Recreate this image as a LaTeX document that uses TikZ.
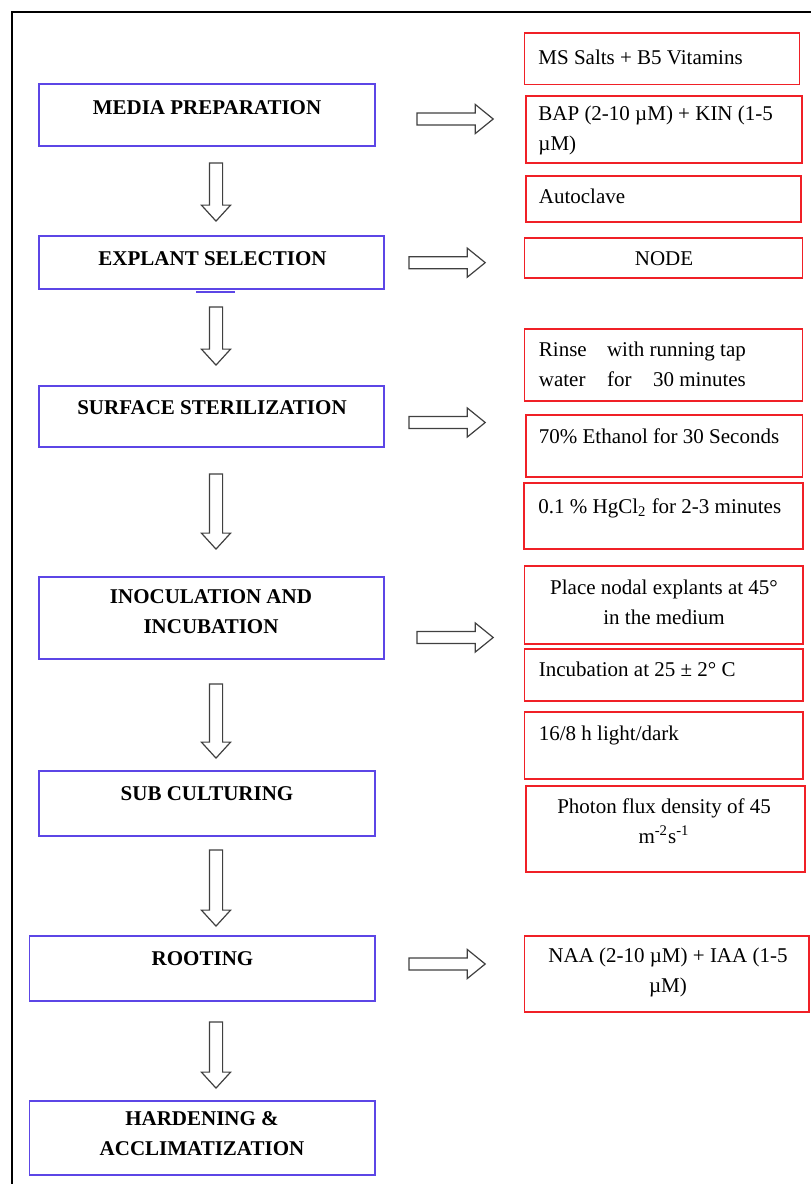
\documentclass[tikz,border=0pt]{standalone}
\usepackage{fontspec}
\setmainfont{Liberation Serif}
\usetikzlibrary{calc, positioning}
\definecolor{StepBlue}{RGB}{92, 70, 230}
\definecolor{NoteRed}{RGB}{240, 32, 38}
\definecolor{ArrowGray}{RGB}{64, 64, 64}
\newcommand{\spreadline}[1]{\hbox to 103.5pt{#1}}

\begin{document}
\begin{tikzpicture}[x=0.5pt, y=-0.5pt,
        stepbox/.style={draw=StepBlue, line width=0.9pt, inner sep=0pt},
        notebox/.style={draw=NoteRed, line width=0.8pt, inner sep=0pt},
        steptext/.style={inner sep=0pt, align=center,
                         font=\fontsize{10.5}{15}\selectfont\bfseries},
        notetext/.style={inner sep=0pt, font=\fontsize{10.5}{15}\selectfont},
        downarrow/.style={draw=ArrowGray, fill=white, line width=0.6pt, line join=miter,
            to path={($(\tikztostart)+(-3.3pt,0)$) -- ($(\tikztotarget)+(-3.3pt,8pt)$)
                -- ($(\tikztotarget)+(-7.3pt,8pt)$) -- (\tikztotarget)
                -- ($(\tikztotarget)+(7.3pt,8pt)$) -- ($(\tikztotarget)+(3.3pt,8pt)$)
                -- ($(\tikztostart)+(3.3pt,0)$) -- cycle}},
        rightarrow/.style={draw=ArrowGray, fill=white, line width=0.6pt, line join=miter,
            to path={($(\tikztostart)+(0,3pt)$) -- ($(\tikztotarget)+(-9pt,3pt)$)
                -- ($(\tikztotarget)+(-9pt,7.3pt)$) -- (\tikztotarget)
                -- ($(\tikztotarget)+(-9pt,-7.3pt)$) -- ($(\tikztotarget)+(-9pt,-3pt)$)
                -- ($(\tikztostart)+(0,-3pt)$) -- cycle}}]

        \useasboundingbox (0,0) rectangle (810,1184);
        % Page frame (runs off the right and bottom edges)
        \draw[line width=0.9pt] (11.7,1200) |- (830,12.3);

        % Main steps (left column)
        \node[stepbox, minimum width=168pt, minimum height=31pt] (media) at (207,115) {};
        \node[steptext, anchor=base] (media-txt) at (207,114) {MEDIA PREPARATION};
        \node[stepbox, minimum width=172.5pt, minimum height=26.65pt] (explant) at (211.5,262.65) {};
        \node[steptext, anchor=base] (explant-txt) at (212.5,265) {EXPLANT SELECTION};
        \draw[StepBlue, line width=0.9pt] (196,291.7) -- (235,291.7);
        \node[stepbox, minimum width=172.5pt, minimum height=30.5pt] (surface) at (211.5,416.5) {};
        \node[steptext, anchor=base] (surface-txt) at (212,414) {SURFACE STERILIZATION};
        \node[stepbox, minimum width=172.5pt, minimum height=41pt] (inoc) at (211.5,618) {};
        \node[steptext] (inoc-txt) at (211,611.5) {INOCULATION AND\\INCUBATION};
        \node[stepbox, minimum width=168pt, minimum height=32.5pt] (sub) at (207,803.5) {};
        \node[steptext, anchor=base] (sub-txt) at (207,800) {SUB CULTURING};
        \node[stepbox, minimum width=172.75pt, minimum height=32.5pt] (rooting) at (202.25,968.5) {};
        \node[steptext, anchor=base] (rooting-txt) at (202.5,965) {ROOTING};
        \node[stepbox, minimum width=172.75pt, minimum height=37pt] (harden) at (202.25,1138) {};
        \node[steptext] (harden-txt) at (202,1134) {HARDENING \&\\ACCLIMATIZATION};

        % Details (right column)
        \node[notebox, minimum width=137.5pt, minimum height=25.75pt] (mssalts) at (662,58.75) {};
        \node[notetext, anchor=base west] (mssalts-txt) at (538,64) {MS Salts + B5 Vitamins};
        \node[notebox, minimum width=138pt, minimum height=33.5pt] (bap) at (664,129.5) {};
        \node[notetext, anchor=west, align=left] (bap-txt) at (538,130) {BAP (2-10 µM) + KIN (1-5\\µM)};
        \node[notebox, minimum width=137.5pt, minimum height=23pt] (autoclave) at (663.5,199) {};
        \node[notetext, anchor=base west] (autoclave-txt) at (538.5,203) {Autoclave};
        \node[notebox, minimum width=139pt, minimum height=20pt] (nodal) at (663.5,258) {};
        \node[notetext, anchor=base] (nodal-txt) at (664,265) {NODE};
        \node[notebox, minimum width=139pt, minimum height=36pt] (rinse) at (663.5,365) {};
        \node[notetext, anchor=west, align=left] (rinse-txt) at (538.5,364)
            {\spreadline{Rinse\hfill with running tap}\\\spreadline{water\hfill for\hfill 30 minutes}};
        \node[notebox, minimum width=138.25pt, minimum height=31pt] (ethanol) at (664.25,446) {};
        \node[notetext, anchor=base west] (ethanol-txt) at (538.5,443) {70\% Ethanol for 30 Seconds};
        \node[notebox, minimum width=139.5pt, minimum height=33pt] (hgcl) at (663.5,516) {};
        \node[notetext, anchor=base west] (hgcl-txt) at (538,513) {0.1 \% HgCl\textsubscript{2} for 2-3 minutes};
        \node[notebox, minimum width=139.25pt, minimum height=39pt] (place) at (663.75,605) {};
        \node[notetext, align=center] (place-txt) at (664,602) {Place nodal explants at 45°\\in the medium};
        \node[notebox, minimum width=139.25pt, minimum height=26pt] (incub) at (663.75,675) {};
        \node[notetext, anchor=base west] (incub-txt) at (538.5,676) {Incubation at 25 ± 2° C};
        \node[notebox, minimum width=139.25pt, minimum height=33.5pt] (cycle16) at (663.75,745.5) {};
        \node[notetext, anchor=base west] (cycle16-txt) at (538.5,740) {16/8 h light/dark};
        \node[notebox, minimum width=139.5pt, minimum height=43pt] (photon) at (665.5,829) {};
        \node[notetext, align=center] (photon-txt) at (664,821.5)
            {Photon flux density of 45\\m\textsuperscript{-2}s\textsuperscript{-1}};
        \node[notebox, minimum width=142.25pt, minimum height=38pt] (naa) at (666.75,974) {};
        \node[notetext, align=center] (naa-txt) at (668,972) {NAA (2-10 µM) + IAA (1-5\\µM)};

        % Arrow ends
        \coordinate (axis) at (216,0);
        \coordinate (media-d) at ($(media.south -| axis)+(0,-8pt)$);
        \coordinate (explant-u) at ($(explant.north -| axis)+(0,7pt)$);
        \coordinate (explant-d) at ($(explant.south -| axis)+(0,-8.35pt)$);
        \coordinate (surface-u) at ($(surface.north -| axis)+(0,10pt)$);
        \coordinate (surface-d) at ($(surface.south -| axis)+(0,-13pt)$);
        \coordinate (inoc-u) at ($(inoc.north -| axis)+(0,13.5pt)$);
        \coordinate (inoc-d) at ($(inoc.south -| axis)+(0,-12pt)$);
        \coordinate (sub-u) at ($(sub.north -| axis)+(0,6pt)$);
        \coordinate (sub-d) at ($(sub.south -| axis)+(0,-6.5pt)$);
        \coordinate (rooting-u) at ($(rooting.north -| axis)+(0,4.5pt)$);
        \coordinate (rooting-d) at ($(rooting.south -| axis)+(0,-10pt)$);
        \coordinate (harden-u) at ($(harden.north -| axis)+(0,6pt)$);

        \coordinate (media-r) at ($(media.east)+(20.5pt,-2pt)$);
        \coordinate (bap-l) at ($(media-r -| bap.west)+(-16pt,0)$);
        \coordinate (explant-r) at ($(explant.east)+(12pt,0)$);
        \coordinate (nodal-l) at ($(explant-r -| nodal.west)+(-19.25pt,0)$);
        \coordinate (surface-r) at ($(surface.east)+(12pt,-3pt)$);
        \coordinate (ethanol-l) at ($(surface-r -| ethanol.west)+(-20pt,0)$);
        \coordinate (inoc-r) at ($(inoc.east)+(16pt,-9.75pt)$);
        \coordinate (place-l) at ($(inoc-r -| place.west)+(-15.25pt,0)$);
        \coordinate (rooting-r) at ($(rooting.east)+(16.5pt,2.25pt)$);
        \coordinate (naa-l) at ($(rooting-r -| naa.west)+(-19.25pt,0)$);

        % Flow down the steps
        \draw[downarrow] (media-d) to (explant-u);
        \draw[downarrow] (explant-d) to (surface-u);
        \draw[downarrow] (surface-d) to (inoc-u);
        \draw[downarrow] (inoc-d) to (sub-u);
        \draw[downarrow] (sub-d) to (rooting-u);
        \draw[downarrow] (rooting-d) to (harden-u);

        % Steps to their details
        \draw[rightarrow] (media-r) to (bap-l);
        \draw[rightarrow] (explant-r) to (nodal-l);
        \draw[rightarrow] (surface-r) to (ethanol-l);
        \draw[rightarrow] (inoc-r) to (place-l);
        \draw[rightarrow] (rooting-r) to (naa-l);
    \end{tikzpicture}
\end{document}
